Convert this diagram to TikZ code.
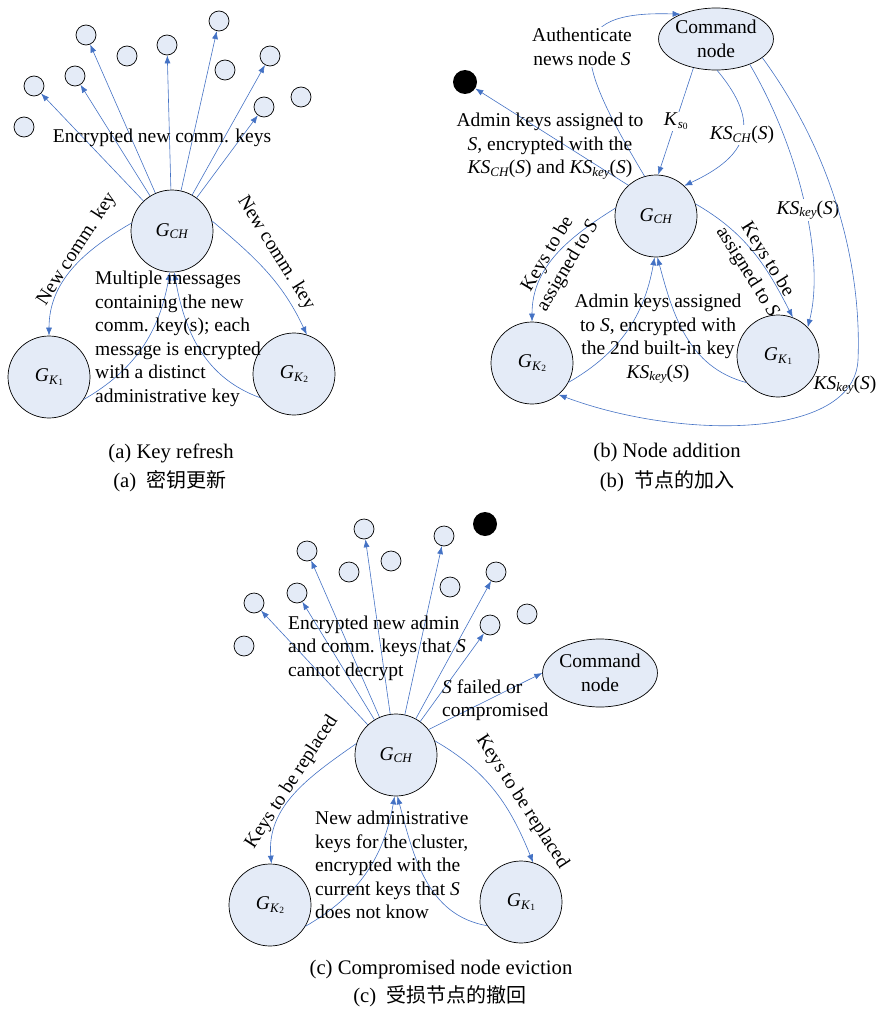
\documentclass[tikz,border=0pt]{standalone}
\usepackage{fontspec}
\setmainfont{Liberation Serif}
\newfontfamily\cjk{Noto Sans CJK SC}
\usetikzlibrary{arrows.meta,shapes.geometric}
\definecolor{nodefill}{RGB}{228,235,247}
\definecolor{linkblue}{RGB}{68,114,196}
\newcommand\lowsub[1]{\raisebox{-0.3ex}{\fontsize{13}{13}\selectfont #1}}
\newcommand\lowsubsub[1]{\raisebox{-0.25ex}{\fontsize{9.5}{9.5}\selectfont #1}}
\newcommand\gch{\textit{G}\lowsub{\textit{CH}}}
\newcommand\gk[1]{\textit{G}\lowsub{\textit{K}\lowsubsub{#1}}}
\newcommand\kskey{\textit{KS}\lowsub{\textit{key}}(\textit{S})}
\newcommand\ksch{\textit{KS}\lowsub{\textit{CH}}(\textit{S})}
\tikzset{
  cluster/.style={circle,draw,fill=nodefill,minimum size=82pt,inner sep=0pt,line width=0.7pt},
  member/.style={circle,draw,fill=nodefill,minimum size=20pt,inner sep=0pt,line width=0.7pt},
  gone/.style={circle,fill=black,minimum size=24pt,inner sep=0pt},
  command/.style={ellipse,draw,fill=nodefill,minimum width=112pt,minimum height=62pt,inner sep=0pt,align=center,line width=0.7pt},
  arr/.style={linkblue,line width=0.6pt,-{Latex[length=8pt,width=6pt]}},
  note/.style={inner sep=0pt},
  cover/.style={fill=white,text=black,inner sep=1pt},
  caption/.style={inner sep=0pt,font=\fontsize{20.7}{24}\selectfont}
}
\begin{document}
\begin{tikzpicture}[x=1pt,y=-1pt,font=\fontsize{19.5}{23.5}\selectfont]
  \useasboundingbox (0,0) rectangle (880,1014);
  % (a) key refresh
  \node [cluster] (gcha) at (172,231) {\gch};
  \node [cluster] (gk1a) at (49,377) {\gk{1}};
  \node [cluster] (gk2a) at (294,374) {\gk{2}};
  \foreach \n/\x/\y in {1/86/35,2/127/56,3/167/45,4/219/21,5/270/56,6/225/70,7/301/97,8/264/107,9/75/76,10/34/86,11/24/127}
    \node [member] (ma\n) at (\x,\y) {};
  \foreach \n in {10,9,1,3,4,5,8}
    \draw [arr] (gcha) -- (ma\n);
  \draw [arr] (gcha.169) to[out=210,in=90] (gk1a.north);
  \draw [arr] (gcha.14) to[out=-40,in=115] (gk2a.72);
  \draw [arr] (gk1a.-33) to[out=30,in=-100] (gcha.-93);
  \draw [arr] (gk2a.215) to[out=160,in=-80] (gcha.-87);
  \node [note] (encra) at (162,138) {Encrypted new comm. keys};
  \node [note,rotate=57] (newl) at (77,249) {New comm. key};
  \node [note,rotate=-58] (newr) at (276,253) {New comm. key};
  \node [note,align=left,anchor=west] (multi) at (95,339) {Multiple messages\\containing the new\\comm. key(s); each\\message is encrypted\\with a distinct\\administrative key};
  \node [caption] (capa) at (171,453) {(a) Key refresh};
  \node [caption] (capa2) at (170,481) {(a)\ \ {\cjk\fontsize{20}{24}\selectfont 密钥更新}};
  % (b) node addition
  \node [cluster] (gchb) at (656,216) {\gch};
  \node [cluster] (gk2b) at (532,363) {\gk{2}};
  \node [cluster] (gk1b) at (778,356) {\gk{1}};
  \node [command] (cmdb) at (716,39) {Command\\node};
  \node [gone] (dotb) at (465,82) {};
  \draw [arr] (gchb.106) .. controls (575,60) and (560,10) .. (cmdb.145);
  \node [note,cover,align=center] (auth) at (582,47) {Authenticate\\news node \textit{S}};
  \draw [arr] (cmdb.-128) -- node [cover] (ks0) {\textit{K}\lowsub{\textit{s}\lowsubsub{0}}} (gchb.87);
  \draw [arr] (cmdb.-88) to[out=-50,in=25,looseness=1.5] (gchb.47);
  \node [cover] (kschl) at (742,135) {\ksch};
  \draw [arr] (cmdb.-37) .. controls (800,150) and (825,260) .. (gk1b.44);
  \node [cover] (kskey1) at (808,210) {\kskey};
  \draw [arr] (cmdb.-22) .. controls (830,150) and (862,260) .. (858,360)
    .. controls (854,440) and (680,440) .. (gk2b.-50);
  \node [note] (kskey2) at (845,385) {\kskey};
  \draw [arr] (gchb.132) -- (dotb);
  \node [note,align=center] (admin1) at (550,146) {Admin keys assigned to\\\textit{S}, encrypted with the\\\ksch{} and \kskey};
  \draw [arr] (gchb.169) to[out=212,in=90] (gk2b.north);
  \draw [arr] (gchb.17) to[out=-30,in=117] (gk1b.69);
  \draw [arr] (gk2b.-28) to[out=30,in=-100] (gchb.-92);
  \draw [arr] (gk1b.220) to[out=165,in=-75] (gchb.-88);
  \node [note,align=center,rotate=59] (keysl) at (558,260) {Keys to be\\assigned to \textit{S}};
  \node [note,align=center,rotate=-58] (keysr) at (757,266) {Keys to be\\assigned to \textit{S}};
  \node [note,align=center] (admin2) at (658,339) {Admin keys assigned\\to \textit{S}, encrypted with\\the 2nd built-in key\\\kskey};
  \node [caption] (capb) at (667,453) {(b) Node addition};
  \node [caption] (capb2) at (667,481) {(b)\ \ {\cjk\fontsize{20}{24}\selectfont 节点的加入}};
  % (c) compromised node eviction
  \node [cluster] (gchc) at (396,755) {\gch};
  \node [cluster] (gk2c) at (270,905) {\gk{2}};
  \node [cluster] (gk1c) at (521,902) {\gk{1}};
  \node [command,minimum width=114pt,minimum height=68pt] (cmdc) at (600,673) {Command\\node};
  \node [gone] (dotc) at (485,524) {};
  \foreach \n/\x/\y in {1/364/529,2/307/551,3/349/572,4/391/561,5/444/536,6/450/587,7/496/572,8/527/614,9/490/625,10/297/593,11/254/603,12/244/646}
    \node [member] (mc\n) at (\x,\y) {};
  \foreach \n in {11,10,2,1,5,7,9}
    \draw [arr] (gchc) -- (mc\n);
  \draw [arr] (gchc.38) -- (cmdc.west);
  \draw [arr] (gchc.164) to[out=215,in=95] (gk2c.88);
  \draw [arr] (gchc.20) to[out=-30,in=112] (gk1c.73);
  \draw [arr] (gk2c.-31) to[out=30,in=-100] (gchc.-92);
  \draw [arr] (gk1c.215) to[out=170,in=-75] (gchc.-88);
  \node [note,align=left,anchor=west] (encrc) at (288,648) {Encrypted new admin\\and comm. keys that \textit{S}\\cannot decrypt};
  \node [note,align=left,anchor=west] (fail) at (442,700) {\textit{S} failed or\\compromised};
  \node [note,align=left,anchor=west] (newadm) at (315,865) {New administrative\\keys for the cluster,\\encrypted with the\\current keys that \textit{S}\\does not know};
  \node [note,rotate=57] (repl) at (292,782) {Keys to be replaced};
  \node [note,rotate=-57] (repr) at (522,802) {Keys to be replaced};
  \node [caption] (capc) at (441,970) {(c) Compromised node eviction};
  \node [caption] (capc2) at (440,996) {(c)\ \ {\cjk\fontsize{20}{24}\selectfont 受损节点的撤回}};
\end{tikzpicture}
\end{document}
